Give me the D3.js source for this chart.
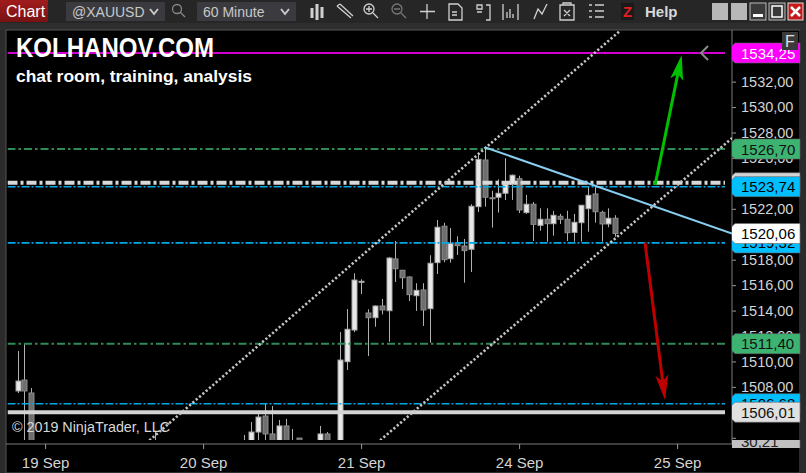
<!DOCTYPE html>
<html>
<head>
<meta charset="utf-8">
<script src="https://cdn.jsdelivr.net/npm/d3@7"></script>
<style>
  html, body { margin: 0; padding: 0; background: #2b2b2b; overflow: hidden; }
  svg { display: block; font-family: "Liberation Sans", Arial, sans-serif; }
</style>
</head>
<body>
<div id="chart"></div>
<script>
// ---- data (XAUUSD, 60 minute bars, bar index 0 = first bar on screen) ----
var dayTicks = [4, 27, 50, 73, 96];
var dayLabels = ["19 Sep", "20 Sep", "21 Sep", "24 Sep", "25 Sep"];

var opens = [1507.68, 1508.54, 1507.52, 1503.2, 1501.5, 1501.9, 1501.2, 1500.1, 1500.9, 1501.6,
    1501.0, 1499.8, 1499.1, 1499.7, 1500.6, 1500.3, 1500.8, 1501.7, 1501.3, 1502.0,
    1502.6, 1503.3, 1502.4, 1501.3, 1501.8, 1502.2, 1502.9, 1502.5, 1502.0, 1502.4,
    1503.0, 1502.7, 1502.1, 1502.5, 1503.2, 1504.45, 1505.71, 1504.30, 1503.4, 1504.93,
    1503.3, 1503.98, 1503.1, 1502.6, 1503.0, 1504.30, 1503.1, 1502.6, 1509.98, 1512.47,
    1516.27, 1513.81, 1513.44, 1514.36, 1513.99, 1518.06, 1517.17, 1516.64, 1515.17, 1515.62,
    1514.15, 1517.77, 1520.63, 1518.08, 1519.31, 1519.08, 1518.82, 1522.17, 1525.84, 1522.87,
    1522.91, 1523.22, 1523.93, 1524.37, 1521.70, 1522.36, 1520.70, 1521.18, 1520.83, 1521.41,
    1521.18, 1520.15, 1520.91, 1522.01, 1523.17, 1521.72, 1520.81, 1521.26];
var highs = [1510.82, 1511.45, 1507.91, 1503.5, 1502.4, 1502.6, 1501.8, 1501.3, 1502.0, 1502.3,
    1501.5, 1500.6, 1500.2, 1501.1, 1501.4, 1501.0, 1502.1, 1502.5, 1502.2, 1503.1,
    1504.45, 1503.6, 1503.0, 1502.2, 1502.6, 1503.2, 1503.5, 1503.3, 1502.8, 1503.4,
    1503.6, 1503.3, 1503.0, 1504.22, 1505.24, 1505.87, 1506.73, 1506.50, 1505.40, 1505.48,
    1504.69, 1503.98, 1503.6, 1503.4, 1504.93, 1504.45, 1503.5, 1512.32, 1514.12, 1516.93,
    1516.46, 1514.10, 1514.40, 1514.91, 1518.20, 1519.47, 1517.20, 1516.70, 1516.15, 1516.15,
    1518.35, 1521.12, 1520.90, 1520.49, 1519.84, 1519.63, 1522.36, 1526.23, 1526.84, 1523.42,
    1524.32, 1525.97, 1524.70, 1524.60, 1523.09, 1522.54, 1522.04, 1522.04, 1521.83, 1521.60,
    1521.85, 1521.60, 1522.30, 1523.74, 1523.74, 1521.85, 1522.04, 1521.50];
var lows = [1507.52, 1503.0, 1502.8, 1500.8, 1500.2, 1500.9, 1499.6, 1499.2, 1500.3, 1500.7,
    1499.4, 1498.5, 1498.3, 1499.2, 1499.9, 1499.5, 1500.4, 1501.0, 1500.8, 1501.5,
    1502.0, 1501.9, 1500.8, 1500.5, 1501.1, 1501.6, 1502.0, 1501.7, 1501.2, 1501.9,
    1502.2, 1501.8, 1501.6, 1502.0, 1502.8, 1503.2, 1503.5, 1503.0, 1502.9, 1502.8,
    1502.6, 1502.9, 1502.2, 1502.0, 1502.7, 1502.8, 1502.1, 1502.3, 1509.33, 1512.30,
    1515.30, 1510.43, 1512.73, 1513.70, 1511.55, 1516.25, 1515.70, 1514.75, 1513.97, 1512.79,
    1511.47, 1516.88, 1517.80, 1517.77, 1518.37, 1516.19, 1517.03, 1521.75, 1522.17, 1520.52,
    1521.70, 1522.69, 1522.70, 1521.67, 1521.60, 1519.47, 1520.28, 1519.42, 1519.89, 1520.81,
    1519.47, 1519.42, 1519.42, 1520.20, 1520.91, 1519.42, 1520.55, 1519.80];
var closes = [1508.46, 1507.68, 1503.2, 1501.5, 1501.9, 1501.2, 1500.1, 1500.9, 1501.6, 1501.0,
    1499.8, 1499.1, 1499.7, 1500.6, 1500.3, 1500.8, 1501.7, 1501.3, 1502.0, 1502.6,
    1503.3, 1502.4, 1501.3, 1501.8, 1502.2, 1502.9, 1502.5, 1502.0, 1502.4, 1503.0,
    1502.7, 1502.1, 1502.5, 1503.2, 1504.45, 1505.63, 1504.30, 1503.4, 1504.93, 1503.3,
    1503.6, 1503.1, 1502.6, 1503.0, 1504.30, 1503.1, 1502.6, 1510.11, 1512.53, 1516.40,
    1516.30, 1513.44, 1514.36, 1514.05, 1518.13, 1517.29, 1516.58, 1515.25, 1515.59, 1514.05,
    1517.72, 1520.55, 1518.00, 1519.26, 1519.10, 1518.71, 1522.20, 1525.89, 1522.91, 1522.85,
    1523.22, 1523.93, 1524.64, 1521.91, 1522.36, 1520.78, 1521.18, 1520.83, 1521.49, 1521.18,
    1520.12, 1520.94, 1522.28, 1523.06, 1521.77, 1520.81, 1521.26, 1520.06];

var priceTicks = d3.range(1504, 1534, 2);

// horizontal lines drawn on the chart
var levelNames  = ["magenta", "green", "white", "blue", "blue", "green", "blue", "gray"];
var levelPrices = [1534.25, 1526.70, 1524.05, 1523.74, 1519.32, 1511.40, 1506.68, 1506.01];

// price markers on the right axis, listed bottom layer first
var markerNames  = ["grayLow", "white", "blue", "blue", "magenta", "green", "blue", "last", "green", "gray"];
var markerPrices = [1503.71, 1524.05, 1519.32, 1506.68, 1534.25, 1526.70, 1523.74, 1520.06, 1511.40, 1506.01];
var markerTexts  = ["30,21", "1524,05", "1519,32", "1506,68", "1534,25", "1526,70", "1523,74", "1520,06", "1511,40", "1506,01"];

// drawn objects: [bar index, price] pairs
var upperChannel = [[10, 1499.47], [95, 1539.43]];
var lowerChannel = [[45, 1500.19], [104, 1527.56]];
var trendLine = [[68, 1526.84], [104, 1520.06]];
var upArrow = [[92.8, 1523.87], [96.67, 1534.09]];
var downArrow = [[91.33, 1519.34], [94.24, 1506.97]];

// ---- chart ----
var W = 806, H = 473;
var plot = {left: 7.5, top: 31, right: 732, bottom: 440};
var AXIS_Y = 444;

var STYLES = {
    magenta: {line: "#d000d0", label: "#ff00ff", text: "#ffffff", width: 2, dash: null},
    green:   {line: "#2e8b57", label: "#3cb371", text: "#111111", width: 2, dash: "8,3,2.5,3"},
    white:   {line: "#d8d8d8", label: "#d3d3d3", text: "#111111", width: 4, dash: "10,3,3,3"},
    blue:    {line: "#00a8e8", label: "#00bfff", text: "#000000", width: 1.6, dash: "8,2,2,2"},
    gray:    {line: "#d3d3d3", label: "#e0e0e0", text: "#111111", width: 4, dash: null},
    last:    {label: "#ffffff", text: "#000000"},
    grayLow: {label: "#c0c0c0", text: "#222222"}
};

var x = d3.scaleLinear().domain([dayTicks[0], dayTicks[4]]).range([45.1, 677.1]);
var y = d3.scaleLinear().domain([1506.01, 1534.25]).range([412.2, 53]);

var svg = d3.select("#chart").append("svg").attr("width", W).attr("height", H);
var defs = svg.append("defs");
defs.append("clipPath").attr("id", "plot-clip").append("rect")
    .attr("x", plot.left).attr("y", plot.top)
    .attr("width", plot.right - plot.left).attr("height", plot.bottom - plot.top);
defs.append("clipPath").attr("id", "axis-clip").append("rect")
    .attr("x", plot.right).attr("y", plot.top).attr("width", 70).attr("height", 416);
defs.append("clipPath").attr("id", "low-clip").append("rect")
    .attr("x", plot.right).attr("y", 440).attr("width", 70).attr("height", 8);

/** toolbar across the top */
function drawToolbar() {
    var bar = svg.append("g");
    bar.append("rect").attr("width", W).attr("height", 23).attr("fill", "#262626");
    bar.append("rect").attr("y", 23).attr("width", W).attr("height", 7).attr("fill", "#2e2e2e");

    var grad = defs.append("linearGradient").attr("id", "chart-tab").attr("x1", 0).attr("y1", 0).attr("x2", 0).attr("y2", 1);
    grad.append("stop").attr("offset", 0).attr("stop-color", "#a01c1c");
    grad.append("stop").attr("offset", 1).attr("stop-color", "#7a1212");
    bar.append("rect").attr("width", 48).attr("height", 22).attr("fill", "url(#chart-tab)");
    bar.append("text").attr("x", 6).attr("y", 17).attr("fill", "#fff").attr("font-size", 16).text("Chart");

    function dropdown(x0, w, label) {
        bar.append("rect").attr("x", x0).attr("y", 2).attr("width", w).attr("height", 19).attr("fill", "#3b3b3f");
        bar.append("text").attr("x", x0 + 6).attr("y", 17).attr("fill", "#c8c8c8").attr("font-size", 14).text(label);
        bar.append("path").attr("d", "M" + (x0 + w - 15) + ",9 l4,5 l4,-5")
            .attr("fill", "none").attr("stroke", "#c8c8c8").attr("stroke-width", 2);
    }
    dropdown(66, 99, "@XAUUSD");
    dropdown(197, 99, "60 Minute");

    var ic = bar.append("g").attr("fill", "none").attr("stroke", "#d0d0d0").attr("stroke-width", 1.3);
    // search
    ic.append("circle").attr("cx", 177).attr("cy", 9).attr("r", 4.5).attr("stroke", "#888");
    ic.append("path").attr("d", "M180,12 l5,5").attr("stroke", "#888");
    // candles
    ic.append("path").attr("d", "M312,8 v10 M317,4 v16 M322,7 v11").attr("stroke-width", 3);
    // pencil
    ic.append("path").attr("d", "M337,6 l14,12 M340,4 l13,12 M337,6 l3,-2");
    // zoom in / out
    ic.append("circle").attr("cx", 369).attr("cy", 9).attr("r", 5);
    ic.append("path").attr("d", "M373,13 l5,5 M366,9 h6 M369,6 v6");
    ic.append("circle").attr("cx", 397).attr("cy", 9).attr("r", 5).attr("stroke", "#777");
    ic.append("path").attr("d", "M401,13 l5,5 M394,9 h6").attr("stroke", "#777");
    // crosshair
    ic.append("path").attr("d", "M427,4 v15 M420,11.5 h15");
    // other tools
    ic.append("path").attr("d", "M449,4 h9 l4,4 v12 h-13 z M452,12 h5 M452,15 h5");
    ic.append("path").attr("d", "M477,5 h5 v4 h-5 z M477,12 h5 M486,5 h4 v15 h-4");
    ic.append("path").attr("d", "M503,4 v16 M518,4 v16 M507,18 v-6 M510,18 v-9 M513,18 v-4");
    ic.append("path").attr("d", "M534,19 l4,-10 l4,5 l5,-10");
    ic.append("path").attr("d", "M560,5 h14 v15 h-14 z M563,5 v-2 h8 v2 M564,10 l6,6 M570,10 l-6,6");
    ic.append("path").attr("d", "M589,5 h3 M589,11 h3 M589,17 h3 M595,5 h9 M595,11 h9 M595,17 h9");
    bar.append("rect").attr("x", 621).attr("y", 3).attr("width", 13).attr("height", 17).attr("fill", "#1a1a1a");
    bar.append("text").attr("x", 623).attr("y", 17).attr("fill", "#e02020").attr("font-size", 15).attr("font-weight", "bold").text("Z");
    bar.append("text").attr("x", 645).attr("y", 17).attr("fill", "#d8d8d8").attr("font-size", 15).attr("font-weight", "bold").text("Help");

    // window buttons
    [712, 731].forEach(function(bx) {
        bar.append("rect").attr("x", bx).attr("y", 3).attr("width", 16).attr("height", 17).attr("fill", "#b8b8b8");
    });
    bar.append("rect").attr("x", 750).attr("y", 3).attr("width", 16).attr("height", 17).attr("fill", "#3a3a3a").attr("stroke", "#bbb");
    bar.append("rect").attr("x", 753).attr("y", 14).attr("width", 10).attr("height", 3).attr("fill", "#fff");
    bar.append("rect").attr("x", 769).attr("y", 3).attr("width", 16).attr("height", 17).attr("fill", "#3a3a3a").attr("stroke", "#bbb");
    bar.append("rect").attr("x", 772).attr("y", 6).attr("width", 10).attr("height", 11).attr("fill", "none").attr("stroke", "#fff").attr("stroke-width", 1.5);
    bar.append("rect").attr("x", 788).attr("y", 3).attr("width", 15).attr("height", 17).attr("fill", "#c41a1a").attr("stroke", "#ddd");
    bar.append("path").attr("d", "M791,7 l9,9 M800,7 l-9,9").attr("stroke", "#fff").attr("stroke-width", 2.5);
}

/** price axis, time axis and panel frame */
function drawFrame() {
    svg.append("rect").attr("x", 6).attr("y", 30).attr("width", 794).attr("height", H - 30)
        .attr("fill", "#000").attr("stroke", "#555").attr("stroke-width", 1);
    svg.append("rect").attr("x", 800).attr("y", 30).attr("width", 6).attr("height", H - 30).attr("fill", "#2b2b2b");

    var yAxis = d3.axisRight(y).tickValues(priceTicks).tickSize(4).tickPadding(3)
        .tickFormat(function(d) { return y(d) < 430 ? d3.format(".2f")(d).replace(".", ",") : ""; });
    var ga = svg.append("g").attr("transform", "translate(" + plot.right + ",0)").call(yAxis);
    ga.select(".domain").remove();
    ga.selectAll("line").attr("stroke", "#999");
    ga.selectAll("text").attr("fill", "#d4d4d4").attr("font-size", 14.5)
        .attr("font-family", "Liberation Sans, Arial, sans-serif").attr("x", 9);

    svg.append("line").attr("x1", plot.right).attr("x2", plot.right).attr("y1", 30).attr("y2", AXIS_Y)
        .attr("stroke", "#7a7a7a");
    svg.append("line").attr("x1", 6).attr("x2", plot.right).attr("y1", AXIS_Y).attr("y2", AXIS_Y)
        .attr("stroke", "#7a7a7a");

    var xAxis = d3.axisBottom(x).tickValues(dayTicks).tickSize(5).tickPadding(8)
        .tickFormat(function(d, i) { return dayLabels[i]; });
    var gx = svg.append("g").attr("transform", "translate(0," + AXIS_Y + ")").call(xAxis);
    gx.select(".domain").remove();
    gx.selectAll("line").attr("stroke", "#999");
    gx.selectAll("text").attr("fill", "#d4d4d4").attr("font-size", 15)
        .attr("font-family", "Liberation Sans, Arial, sans-serif");
}

/** candlesticks */
function drawBars(g) {
    var bars = g.selectAll("g.bar").data(closes).enter().append("g").attr("class", "bar");
    bars.append("line")
        .attr("x1", function(d, i) { return Math.round(x(i)) + 0.5; })
        .attr("x2", function(d, i) { return Math.round(x(i)) + 0.5; })
        .attr("y1", function(d, i) { return y(highs[i]); })
        .attr("y2", function(d, i) { return y(lows[i]); })
        .attr("stroke", "#b0b0b0");
    bars.append("rect")
        .attr("x", function(d, i) { return Math.round(x(i)) - 2; })
        .attr("width", 5)
        .attr("y", function(d, i) { return y(Math.max(opens[i], closes[i])); })
        .attr("height", function(d, i) { return Math.max(1, Math.abs(y(opens[i]) - y(closes[i]))); })
        .attr("fill", function(d, i) { return closes[i] >= opens[i] ? "#e8e8e8" : "#6e6e6e"; })
        .attr("stroke", function(d, i) { return closes[i] >= opens[i] ? "#a8a8a8" : "#8c8c8c"; })
        .attr("stroke-width", 1);
}

function px(p) { return [x(p[0]), y(p[1])]; }

function drawArrow(g, pts, color) {
    var a = px(pts[0]), b = px(pts[1]);
    var dx = b[0] - a[0], dy = b[1] - a[1], len = Math.sqrt(dx * dx + dy * dy);
    var ux = dx / len, uy = dy / len, nx = -uy, ny = ux;
    var headLen = 25, notch = 19, half = 6.5;
    g.append("line").attr("x1", a[0]).attr("y1", a[1])
        .attr("x2", b[0] - ux * notch).attr("y2", b[1] - uy * notch)
        .attr("stroke", color).attr("stroke-width", 3);
    var base = [b[0] - ux * headLen, b[1] - uy * headLen];
    g.append("path")
        .attr("d", "M" + b[0] + "," + b[1] +
            "L" + (base[0] + nx * half) + "," + (base[1] + ny * half) +
            "L" + (b[0] - ux * notch) + "," + (b[1] - uy * notch) +
            "L" + (base[0] - nx * half) + "," + (base[1] - ny * half) + "Z")
        .attr("fill", color);
}

function drawDrawings(g) {
    var line = d3.line().x(function(p) { return x(p[0]); }).y(function(p) { return y(p[1]); });

    levelPrices.forEach(function(p, i) {
        var s = STYLES[levelNames[i]];
        g.append("line").attr("x1", plot.left).attr("x2", 725)
            .attr("y1", y(p)).attr("y2", y(p))
            .attr("stroke", s.line).attr("stroke-width", s.width)
            .attr("stroke-dasharray", s.dash);
    });

    [upperChannel, lowerChannel].forEach(function(c) {
        g.append("path").attr("d", line(c)).attr("fill", "none")
            .attr("stroke", "#c4c4c4").attr("stroke-width", 2.6).attr("stroke-dasharray", "2.2,2.2");
    });
    g.append("path").attr("d", line(trendLine)).attr("fill", "none")
        .attr("stroke", "#87cef0").attr("stroke-width", 2);

    drawArrow(g, upArrow, "#00c000");
    drawArrow(g, downArrow, "#c00000");

    // line end chevron on the magenta level
    g.append("path")
        .attr("d", "M" + (x(100.5)) + "," + (y(1534.25) - 7) + " l-7,7 l7,7")
        .attr("fill", "none").attr("stroke", "#8a8a8a").attr("stroke-width", 2);
}

/** price flags on the right axis */
function drawMarkers() {
    var g = svg.append("g").attr("clip-path", "url(#axis-clip)");
    markerPrices.forEach(function(p, i) {
        var s = STYLES[markerNames[i]];
        var cy = y(p);
        var xp = 725;
        var target = markerNames[i] === "grayLow" ? svg.append("g").attr("clip-path", "url(#low-clip)") : g;
        target.append("path")
            .attr("d", "M" + xp + "," + cy + " L" + (xp + 10) + "," + (cy - 10) + " H800 V" + (cy + 10) +
                " H" + (xp + 10) + " Z")
            .attr("fill", s.label).attr("stroke", "#666").attr("stroke-width", 0.6);
        target.append("text").attr("x", 741).attr("y", cy + 5.5)
            .attr("fill", s.text).attr("font-size", 15).text(markerTexts[i]);
    });

    svg.append("rect").attr("x", 782).attr("y", 32).attr("width", 16).attr("height", 18).attr("fill", "#3a3a3a");
    svg.append("text").attr("x", 785).attr("y", 47).attr("fill", "#e0e0e0").attr("font-size", 16).text("F");
}

function drawTexts() {
    svg.append("text").attr("x", 16).attr("y", 57).attr("fill", "#fff")
        .attr("font-size", 27).attr("font-weight", "bold")
        .attr("textLength", 198).attr("lengthAdjust", "spacingAndGlyphs").text("KOLHANOV.COM");
    svg.append("text").attr("x", 16).attr("y", 82).attr("fill", "#fff")
        .attr("font-size", 16.5).attr("font-weight", "bold")
        .attr("textLength", 236).attr("lengthAdjust", "spacingAndGlyphs").text("chat room, training, analysis");
    svg.append("text").attr("x", 12).attr("y", 432).attr("fill", "#d8d8d8")
        .attr("font-size", 14.5)
        .attr("textLength", 158).attr("lengthAdjust", "spacingAndGlyphs").text("\u00a9 2019 NinjaTrader, LLC");
}

drawToolbar();
drawFrame();
var plotG = svg.append("g").attr("clip-path", "url(#plot-clip)");
drawBars(plotG);
drawDrawings(plotG);
drawTexts();
drawMarkers();
</script>
</body>
</html>
